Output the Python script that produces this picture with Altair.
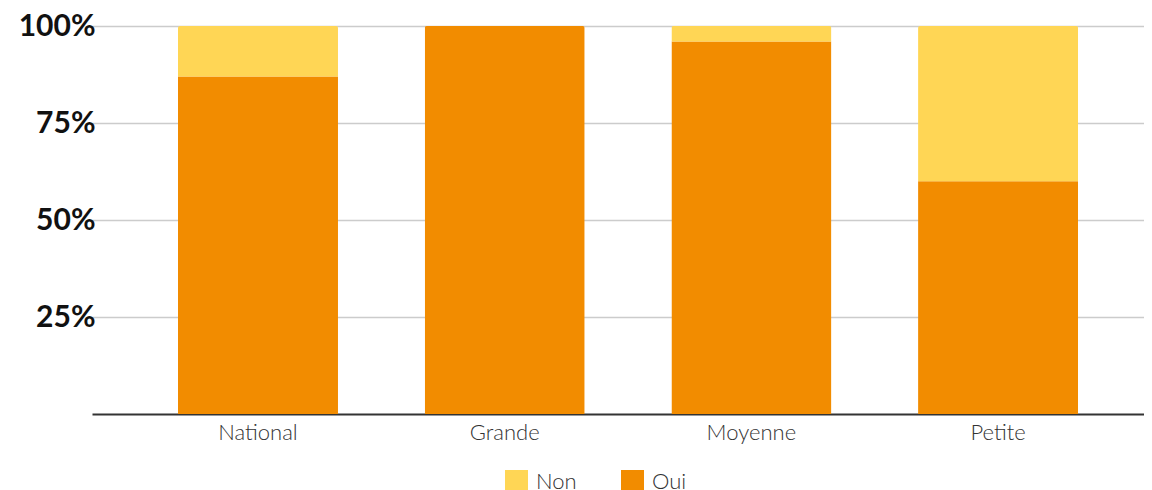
import altair as alt
import pandas as pd

categories = ["National", "Grande", "Moyenne", "Petite"]
oui = [87, 100, 96, 60]
non = [13, 0, 4, 40]
series = ["Non", "Oui"]
colors = ["#FFD655", "#F28C00"]

rows = []
for c, o, n in zip(categories, oui, non):
    rows.append({"cat": c, "serie": "Oui", "val": o, "ord": 0})
    rows.append({"cat": c, "serie": "Non", "val": n, "ord": 1})
df = pd.DataFrame(rows)

chart = alt.Chart(df).mark_bar(cornerRadiusTopLeft=2, cornerRadiusTopRight=2).encode(
    x=alt.X("cat:N", sort=categories, title=None,
            scale=alt.Scale(paddingInner=0.3514, paddingOuter=0.3079, align=0.566),
            axis=alt.Axis(labelAngle=0, labelFont="Lato", labelFontWeight=300,
                          labelFontSize=22, labelColor="#333333", labelPadding=8,
                          ticks=False, domainColor="#333333", domainWidth=2,
                          grid=False)),
    y=alt.Y("val:Q", stack="zero", title=None,
            scale=alt.Scale(domain=[0, 100], nice=False),
            axis=alt.Axis(values=[25, 50, 75, 100], labelExpr="datum.value + '%'",
                          labelFont="Lato", labelFontWeight="bold", labelFontSize=30,
                          labelColor="#111111", labelPadding=-3, ticks=False,
                          domain=False, gridColor="#cccccc", gridWidth=1.5)),
    color=alt.Color("serie:N", scale=alt.Scale(domain=series, range=colors),
                    legend=alt.Legend(title=None, orient="none", direction="horizontal",
                                      legendX=413, legendY=444,
                                      symbolType="square", symbolSize=529,
                                      symbolStrokeWidth=0, labelFont="Lato",
                                      labelFontWeight=300, labelFontSize=22,
                                      labelColor="#333333", labelOffset=8,
                                      columnPadding=44)),
    order=alt.Order("ord:Q", sort="ascending"),
).properties(
    width=1052, height=388,
    padding={"left": 84, "top": 18, "right": 0, "bottom": 76},
    autosize=alt.AutoSizeParams(type="none"),
).configure_view(stroke=None)

chart.save("out.html", embed_options={"renderer": "svg", "actions": False})
